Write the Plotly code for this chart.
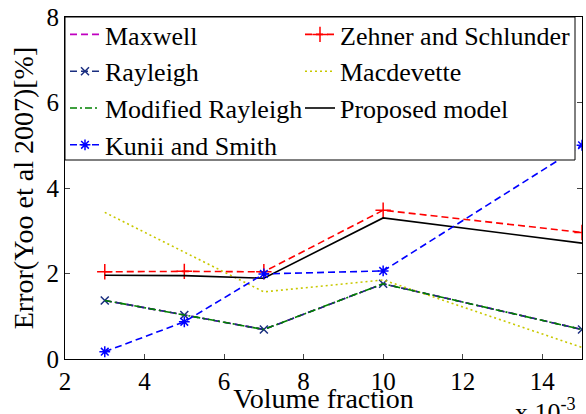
import plotly.graph_objects as go

x_vals = [3, 5, 7, 10, 15]
maxwell = [1.37, 1.03, 0.69, 1.76, 0.69]
zehner = [2.04, 2.05, 2.04, 3.48, 2.96]
rayleigh = [1.37, 1.03, 0.69, 1.76, 0.69]
macdevette = [3.43, 2.50, 1.57, 1.85, 0.27]
mod_rayleigh = [1.37, 1.03, 0.69, 1.76, 0.69]
proposed = [1.96, 1.95, 1.89, 3.30, 2.71]
kunii = [0.17, 0.87, 1.99, 2.06, 5.00]

x_ticks = [2, 4, 6, 8, 10, 12, 14]
y_ticks = [0, 2, 4, 6, 8]

FONT = "Liberation Serif"
DASH = "7px,4px"
DOT = "2px,3px"
DASHDOT = "7px,3px,2px,3px"

fig = go.Figure()

def add(name, y, color, dash, legend, symbol=None, msize=10):
    mode = "lines+markers" if symbol else "lines"
    fig.add_trace(go.Scatter(
        x=x_vals, y=y, name=name, mode=mode, legend=legend,
        line=dict(color=color, dash=dash, width=1.6),
        marker=dict(symbol=symbol or "circle", size=msize, color=color,
                    line=dict(color=color, width=1.5)),
    ))

add("Maxwell", maxwell, "#c000c0", DASH, "legend")
add("Zehner and Schlunder", zehner, "#ff0000", DASH, "legend2", "cross-thin-open", 11)
add("Rayleigh", rayleigh, "#1a2e80", DASH, "legend", "x-thin-open", 8)
add("Macdevette", macdevette, "#c8c800", DOT, "legend2")
add("Modified Rayleigh", mod_rayleigh, "#008000", DASHDOT, "legend")
add("Proposed model", proposed, "#000000", "solid", "legend2")
add("Kunii and Smith", kunii, "#0000ff", DASH, "legend", "asterisk-open", 9)

legend_common = dict(
    yanchor="top", y=1 + 6 / 342, xanchor="left", orientation="v",
    itemwidth=30, borderwidth=0, bgcolor="rgba(0,0,0,0)",
    font=dict(family=FONT, size=26, color="black"), tracegroupgap=0,
)

fig.update_layout(
    width=586, height=414,
    margin=dict(l=65, r=4, t=17, b=55, autoexpand=False),
    paper_bgcolor="white", plot_bgcolor="white",
    font=dict(family=FONT, color="black", size=26),
    showlegend=True,
    legend=dict(x=0, **legend_common),
    legend2=dict(x=(300 - 65) / 517, **legend_common),
    xaxis=dict(
        range=[2, 15], tickvals=x_ticks, ticks="inside", ticklen=5,
        showline=True, linecolor="black", linewidth=1, mirror="ticks",
        showgrid=False, zeroline=False, automargin=False,
        tickfont=dict(family=FONT, size=25),
        title=dict(text="Volume fraction", font=dict(family=FONT, size=28), standoff=2),
    ),
    yaxis=dict(
        range=[0, 8], tickvals=y_ticks, ticks="inside", ticklen=5,
        showline=True, linecolor="black", linewidth=1, mirror="ticks",
        showgrid=False, zeroline=False, automargin=False,
        tickfont=dict(family=FONT, size=25),
        title=dict(text="Error(Yoo et al 2007)[%]", font=dict(family=FONT, size=28), standoff=4),
    ),
)

fig.add_shape(
    type="rect", xref="paper", yref="paper",
    x0=0, x1=(575 - 65) / 517, y0=(359 - 160) / 342, y1=1,
    line=dict(color="black", width=1), fillcolor="white", layer="above",
)

fig.add_annotation(
    x=(513 - 65) / 517, y=(359 - 392) / 342, xref="paper", yref="paper",
    xanchor="left", yanchor="top", showarrow=False,
    text="x 10<sup>-3</sup>", font=dict(family=FONT, size=26),
)

fig.write_html("out.html")
